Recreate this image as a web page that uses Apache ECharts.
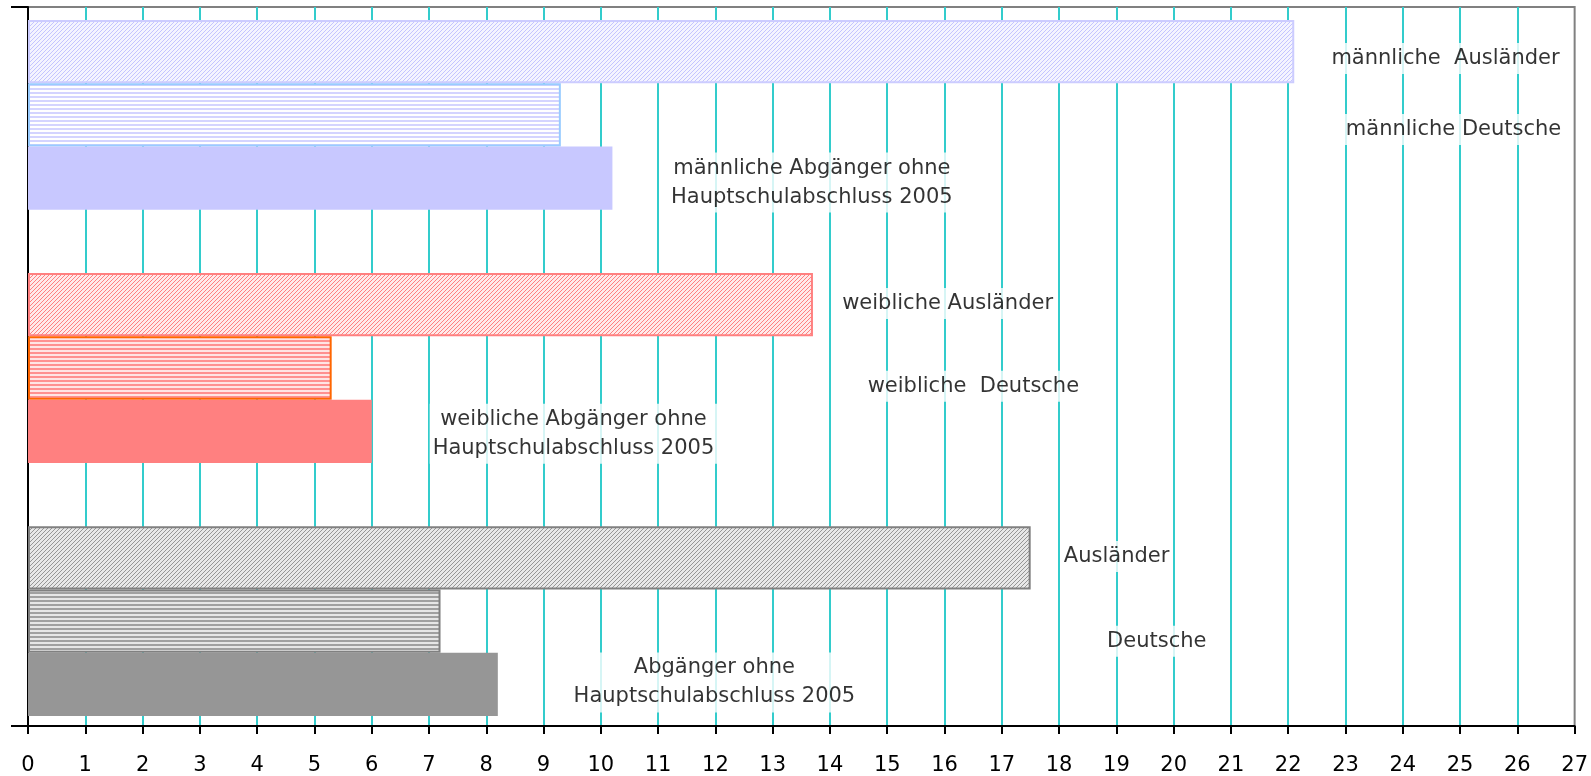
<!DOCTYPE html>
<html>
<head>
<meta charset="utf-8">
<script src="https://cdn.jsdelivr.net/npm/echarts@6/dist/echarts.min.js"></script>
<style>
  html, body { margin: 0; padding: 0; background: #fff; }
</style>
</head>
<body>
<div id="main" style="width: 1591px; height: 776px"></div>
<script>
// Abgänger ohne Hauptschulabschluss 2005 (Prozent)
var groups = ['männliche', 'weibliche', 'gesamt'];
var auslaender = [22.1, 13.7, 17.5];
var deutsche = [9.3, 5.3, 7.2];
var ohneAbschluss = [10.2, 6.0, 8.2];
var xTicks = { min: 0, max: 27, step: 1 };

// Beschriftungen im Diagramm
var labelTexts = [
  'männliche  Ausländer',
  'männliche Deutsche',
  'männliche Abgänger ohne\nHauptschulabschluss 2005',
  'weibliche Ausländer',
  'weibliche  Deutsche',
  'weibliche Abgänger ohne\nHauptschulabschluss 2005',
  'Ausländer',
  'Deutsche',
  'Abgänger ohne\nHauptschulabschluss 2005'
];
var labelX = [24.74, 24.88, 13.68, 16.05, 16.5, 9.52, 19.0, 19.7, 11.98];
var labelY = [0.61, 1.73, 2.57, 4.48, 5.79, 6.54, 8.48, 9.82, 10.47];

// Schraffur als Canvas-Muster
function hatch(kind, bg, fg) {
  var c = document.createElement('canvas');
  c.width = 4; c.height = 4;
  var ctx = c.getContext('2d');
  ctx.fillStyle = bg;
  ctx.fillRect(0, 0, 4, 4);
  ctx.fillStyle = fg;
  if (kind === 'diag') {
    for (var i = 0; i < 4; i++) {
      ctx.fillRect(i, 3 - i, 1, 1);
    }
  } else {
    ctx.fillRect(0, 0, 4, 2);
  }
  return { image: c, repeat: 'repeat' };
}

var styles = [
  [
    { color: hatch('diag', '#f4f4ff', '#c4c4ff'), borderColor: '#ccccff', borderWidth: 2 },
    { color: hatch('horiz', '#ffffff', '#d4d4ff'), borderColor: '#99ccff', borderWidth: 2 },
    { color: '#c8c8ff' }
  ],
  [
    { color: hatch('diag', '#ffeaea', '#ff8080'), borderColor: '#ff8080', borderWidth: 2 },
    { color: hatch('horiz', '#ffe4e4', '#ff9090'), borderColor: '#ff6600', borderWidth: 2 },
    { color: '#ff8080' }
  ],
  [
    { color: hatch('diag', '#e8e8e8', '#969696'), borderColor: '#808080', borderWidth: 2 },
    { color: hatch('horiz', '#e6e6e6', '#a0a0a0'), borderColor: '#808080', borderWidth: 2 },
    { color: '#969696' }
  ]
];

var slots = [];
var barData = [];
groups.forEach(function (g, i) {
  if (i > 0) { slots.push('gap' + i); barData.push('-'); }
  [auslaender[i], deutsche[i], ohneAbschluss[i]].forEach(function (v, k) {
    slots.push(g + k);
    barData.push({ value: v, itemStyle: styles[i][k] });
  });
});

var labelData = labelTexts.map(function (t, i) {
  return { value: [labelX[i], labelY[i]], label: { formatter: t } };
});

var chart = echarts.init(document.getElementById('main'));
chart.setOption({
  animation: false,
  textStyle: { fontFamily: 'DejaVu Sans' },
  grid: [
    { left: 28, right: 16, top: 7, bottom: 48, show: true, backgroundColor: '#fff', borderColor: '#808080', borderWidth: 2 },
    { left: 28, right: 16, top: 20, bottom: 60 }
  ],
  xAxis: [
    {
      gridIndex: 0, type: 'value', min: xTicks.min, max: xTicks.max, interval: xTicks.step,
      axisLine: { lineStyle: { color: '#000', width: 2 } },
      axisTick: { length: 8, lineStyle: { color: '#000', width: 2 } },
      axisLabel: { color: '#000', fontSize: 21, margin: 29, fontFamily: 'DejaVu Sans' },
      splitLine: { show: true, showMinLine: false, showMaxLine: false, lineStyle: { color: '#33cccc', width: 2 } }
    },
    { gridIndex: 1, type: 'value', min: xTicks.min, max: xTicks.max, show: false }
  ],
  yAxis: [
    {
      gridIndex: 0, type: 'value', min: 0, max: 1, interval: 1,
      axisLine: { show: true, lineStyle: { color: '#000', width: 2 } },
      axisTick: { show: true, length: 17, lineStyle: { color: '#000', width: 2 } },
      axisLabel: { show: false },
      splitLine: { show: false }
    },
    { gridIndex: 1, type: 'category', data: slots, inverse: true, show: false },
    { gridIndex: 1, type: 'value', min: 0, max: slots.length, inverse: true, show: false, splitLine: { show: false } }
  ],
  series: [
    {
      type: 'bar', xAxisIndex: 1, yAxisIndex: 1,
      barCategoryGap: '0%', data: barData
    },
    {
      type: 'scatter', xAxisIndex: 1, yAxisIndex: 2, symbolSize: 0, z: 5,
      data: labelData,
      label: {
        show: true, position: 'inside', color: '#000', fontSize: 21, lineHeight: 29,
        fontFamily: 'DejaVu Sans', align: 'center', backgroundColor: '#fff', padding: [1, 3]
      }
    }
  ]
});
</script>
</body>
</html>
